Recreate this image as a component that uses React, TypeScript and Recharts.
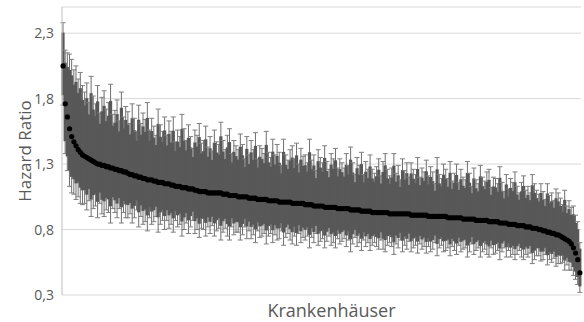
import { ComposedChart, Bar, Line, XAxis, YAxis, CartesianGrid } from "recharts";

// hazard ratio per hospital, sorted descending
const hr = [
  2.05, 1.76, 1.66, 1.57, 1.51, 1.47, 1.44, 1.41, 1.39, 1.37,
  1.36, 1.35, 1.34, 1.33, 1.32, 1.31, 1.3, 1.3, 1.29, 1.29,
  1.28, 1.28, 1.27, 1.27, 1.26, 1.26, 1.25, 1.25, 1.24, 1.24,
  1.23, 1.22, 1.22, 1.21, 1.21, 1.2, 1.2, 1.19, 1.19, 1.18,
  1.18, 1.18, 1.17, 1.17, 1.16, 1.16, 1.16, 1.15, 1.15, 1.15,
  1.14, 1.14, 1.13, 1.13, 1.13, 1.12, 1.12, 1.12, 1.11, 1.11,
  1.11, 1.1, 1.1, 1.09, 1.09, 1.09, 1.09, 1.08, 1.08, 1.08,
  1.08, 1.08, 1.08, 1.08, 1.07, 1.07, 1.07, 1.06, 1.06, 1.06,
  1.06, 1.05, 1.05, 1.05, 1.05, 1.05, 1.04, 1.04, 1.04, 1.04,
  1.03, 1.03, 1.03, 1.03, 1.03, 1.02, 1.02, 1.02, 1.02, 1.02,
  1.01, 1.01, 1.01, 1.01, 1.01, 1.01, 1.0, 1.0, 1.0, 1.0,
  1.0, 1.0, 0.99, 0.99, 0.99, 0.99, 0.98, 0.98, 0.98, 0.98,
  0.98, 0.97, 0.97, 0.97, 0.97, 0.97, 0.97, 0.96, 0.96, 0.96,
  0.96, 0.96, 0.96, 0.95, 0.95, 0.95, 0.95, 0.95, 0.94, 0.94,
  0.94, 0.94, 0.94, 0.93, 0.93, 0.93, 0.93, 0.93, 0.93, 0.93,
  0.93, 0.92, 0.92, 0.92, 0.92, 0.92, 0.92, 0.92, 0.92, 0.92,
  0.92, 0.91, 0.91, 0.91, 0.91, 0.91, 0.91, 0.91, 0.91, 0.9,
  0.9, 0.9, 0.9, 0.9, 0.9, 0.9, 0.9, 0.9, 0.89, 0.89,
  0.89, 0.89, 0.89, 0.89, 0.89, 0.88, 0.88, 0.88, 0.88, 0.88,
  0.88, 0.87, 0.87, 0.87, 0.87, 0.87, 0.87, 0.86, 0.86, 0.86,
  0.86, 0.86, 0.85, 0.85, 0.85, 0.85, 0.84, 0.84, 0.84, 0.84,
  0.83, 0.83, 0.83, 0.83, 0.82, 0.82, 0.82, 0.81, 0.81, 0.81,
  0.8, 0.8, 0.79, 0.79, 0.78, 0.78, 0.77, 0.77, 0.76, 0.76,
  0.75, 0.74, 0.73, 0.72, 0.71, 0.69, 0.66, 0.62, 0.57, 0.47,
];

// lower bound of the confidence interval
const lo = [
  1.75, 1.38, 1.25, 1.13, 1.08, 1.07, 1.03, 1.05, 1.0, 0.99,
  1.0, 0.95, 1.02, 0.9, 0.96, 0.98, 0.89, 1.0, 0.92, 0.9,
  0.95, 0.93, 0.85, 0.96, 0.93, 0.89, 0.96, 0.85, 0.93, 0.89,
  0.89, 0.92, 0.85, 0.89, 0.95, 0.82, 0.9, 0.84, 0.86, 0.79,
  0.89, 0.84, 0.86, 0.9, 0.78, 0.84, 0.87, 0.8, 0.87, 0.81,
  0.84, 0.78, 0.87, 0.82, 0.84, 0.75, 0.8, 0.85, 0.77, 0.82,
  0.87, 0.77, 0.8, 0.74, 0.81, 0.8, 0.75, 0.82, 0.77, 0.83,
  0.75, 0.79, 0.81, 0.72, 0.78, 0.81, 0.75, 0.72, 0.82, 0.76,
  0.78, 0.78, 0.72, 0.76, 0.82, 0.73, 0.79, 0.73, 0.76, 0.7,
  0.79, 0.74, 0.75, 0.77, 0.69, 0.75, 0.77, 0.7, 0.76, 0.72,
  0.73, 0.79, 0.68, 0.74, 0.77, 0.72, 0.69, 0.75, 0.68, 0.77,
  0.7, 0.74, 0.72, 0.75, 0.66, 0.74, 0.7, 0.77, 0.68, 0.71,
  0.73, 0.66, 0.71, 0.75, 0.68, 0.7, 0.66, 0.73, 0.69, 0.71,
  0.73, 0.67, 0.72, 0.63, 0.69, 0.74, 0.67, 0.7, 0.64, 0.72,
  0.67, 0.7, 0.64, 0.68, 0.7, 0.67, 0.65, 0.72, 0.65, 0.63,
  0.68, 0.7, 0.67, 0.61, 0.69, 0.66, 0.72, 0.63, 0.68, 0.65,
  0.71, 0.63, 0.66, 0.68, 0.62, 0.69, 0.65, 0.67, 0.62, 0.67,
  0.63, 0.65, 0.7, 0.6, 0.66, 0.68, 0.63, 0.64, 0.66, 0.6,
  0.67, 0.64, 0.61, 0.68, 0.63, 0.65, 0.66, 0.59, 0.63, 0.69,
  0.61, 0.64, 0.66, 0.59, 0.63, 0.65, 0.61, 0.59, 0.66, 0.61,
  0.62, 0.64, 0.57, 0.63, 0.66, 0.59, 0.64, 0.59, 0.61, 0.57,
  0.61, 0.64, 0.59, 0.57, 0.61, 0.59, 0.62, 0.54, 0.57, 0.6,
  0.6, 0.56, 0.57, 0.61, 0.53, 0.57, 0.55, 0.58, 0.52, 0.54,
  0.54, 0.55, 0.49, 0.53, 0.49, 0.49, 0.45, 0.42, 0.38, 0.32,
];

// upper bound of the confidence interval
const hi = [
  2.38, 2.17, 2.15, 2.14, 2.1, 2.02, 2.05, 1.95, 2.0, 1.9,
  1.85, 1.92, 1.77, 1.97, 1.82, 1.76, 1.9, 1.69, 1.81, 1.86,
  1.72, 1.77, 1.91, 1.68, 1.71, 1.79, 1.63, 1.85, 1.66, 1.74,
  1.7, 1.61, 1.76, 1.65, 1.55, 1.75, 1.61, 1.69, 1.64, 1.77,
  1.56, 1.65, 1.59, 1.52, 1.72, 1.6, 1.55, 1.66, 1.52, 1.63,
  1.55, 1.66, 1.47, 1.56, 1.51, 1.68, 1.57, 1.48, 1.6, 1.51,
  1.42, 1.56, 1.52, 1.61, 1.46, 1.48, 1.59, 1.43, 1.51, 1.4,
  1.56, 1.47, 1.45, 1.62, 1.48, 1.41, 1.52, 1.57, 1.38, 1.48,
  1.44, 1.41, 1.53, 1.45, 1.34, 1.51, 1.37, 1.48, 1.41, 1.54,
  1.34, 1.44, 1.42, 1.38, 1.55, 1.39, 1.35, 1.49, 1.37, 1.45,
  1.39, 1.29, 1.49, 1.37, 1.33, 1.41, 1.44, 1.34, 1.46, 1.3,
  1.42, 1.36, 1.37, 1.31, 1.49, 1.33, 1.37, 1.25, 1.41, 1.35,
  1.31, 1.44, 1.32, 1.26, 1.38, 1.34, 1.42, 1.27, 1.34, 1.31,
  1.27, 1.38, 1.29, 1.43, 1.31, 1.22, 1.35, 1.29, 1.39, 1.22,
  1.32, 1.26, 1.37, 1.26, 1.23, 1.28, 1.34, 1.21, 1.32, 1.38,
  1.26, 1.21, 1.27, 1.38, 1.23, 1.29, 1.18, 1.34, 1.25, 1.31,
  1.2, 1.31, 1.26, 1.22, 1.35, 1.2, 1.27, 1.24, 1.33, 1.21,
  1.28, 1.24, 1.15, 1.35, 1.22, 1.19, 1.3, 1.26, 1.19, 1.32,
  1.17, 1.23, 1.3, 1.16, 1.26, 1.2, 1.18, 1.32, 1.23, 1.13,
  1.27, 1.18, 1.15, 1.29, 1.2, 1.17, 1.24, 1.26, 1.12, 1.2,
  1.19, 1.15, 1.28, 1.16, 1.09, 1.22, 1.11, 1.19, 1.16, 1.24,
  1.13, 1.08, 1.16, 1.21, 1.1, 1.13, 1.08, 1.22, 1.15, 1.1,
  1.07, 1.15, 1.09, 1.03, 1.15, 1.06, 1.08, 1.02, 1.11, 1.08,
  1.04, 0.99, 1.1, 0.98, 1.02, 0.97, 0.98, 0.91, 0.86, 0.7,
];

const yTicks = [0.3, 0.8, 1.3, 1.8, 2.3];

const rows = hr.map((v, i) => ({
  idx: i,
  hr: v,
  ci: [lo[i], hi[i]],
}));

const textColor = "#595959";
const barColor = "#585858";

// error bar: thin whisker with caps over the full interval, wider dark core so the
// crowd of intervals reads as one solid band like in the original
function CiBar(props: any) {
  const { x, y, width, height } = props;
  const cx = x + width / 2;
  const trim = height * 0.12;
  return (
    <g>
      <line x1={cx} x2={cx} y1={y} y2={y + height} stroke="#6e6e6e" strokeWidth={1} />
      <rect x={x - 0.6} y={y + trim} width={width + 1.2} height={height - 2 * trim} fill={barColor} />
      <line x1={cx - 2.5} x2={cx + 2.5} y1={y} y2={y} stroke="#7f7f7f" strokeWidth={1} />
      <line x1={cx - 2.5} x2={cx + 2.5} y1={y + height} y2={y + height} stroke="#7f7f7f" strokeWidth={1} />
    </g>
  );
}

function Dot(props: any) {
  return <circle key={props.index} cx={props.cx} cy={props.cy} r={2.6} fill="#000" />;
}

export default function App() {
  return (
    <div style={{ position: "absolute", left: 0, top: 0, background: "#fff" }}>
      <ComposedChart
        width={584}
        height={322}
        data={rows}
        margin={{ top: 7, right: 3, left: 0, bottom: 0 }}
        barCategoryGap={0}
        barGap={0}
        style={{ fontFamily: "'Open Sans', sans-serif" }}
      >
        <CartesianGrid horizontal vertical={false} stroke="#d9d9d9" />
        <XAxis
          dataKey="idx"
          height={27}
          tick={false}
          tickLine={false}
          axisLine={false}
          label={{
            value: "Krankenhäuser",
            position: "center",
            dx: 10,
            dy: 2,
            fill: textColor,
            fontSize: 18,
          }}
        />
        <YAxis
          type="number"
          width={62}
          domain={[0.3, 2.5]}
          ticks={yTicks}
          tickFormatter={(v: number) => v.toFixed(1).replace(".", ",")}
          tick={{ fill: textColor, fontSize: 14 }}
          tickLine={false}
          axisLine={{ stroke: "#bfbfbf" }}
          label={{
            value: "Hazard Ratio",
            angle: -90,
            position: "insideLeft",
            offset: 25,
            fill: textColor,
            fontSize: 17,
            style: { textAnchor: "middle" },
          }}
        />
        <Bar dataKey="ci" shape={CiBar} isAnimationActive={false} />
        <Line
          dataKey="hr"
          stroke="none"
          dot={Dot}
          activeDot={false}
          isAnimationActive={false}
        />
      </ComposedChart>
    </div>
  );
}
